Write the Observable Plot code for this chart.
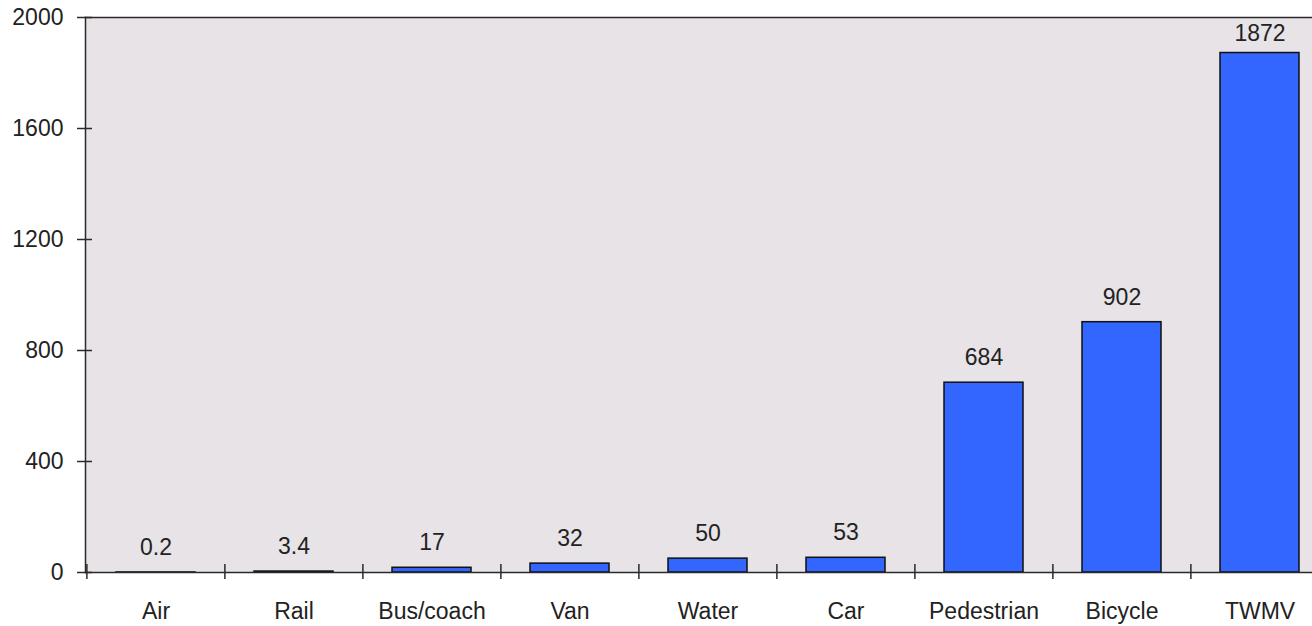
<!DOCTYPE html>
<html>
<head>
<meta charset="utf-8">
<script src="https://cdn.jsdelivr.net/npm/d3@7"></script>
<script src="https://cdn.jsdelivr.net/npm/@observablehq/plot@0.6"></script>
<style>
  html, body { margin: 0; padding: 0; background: #ffffff; }
  svg { display: block; }
</style>
</head>
<body>
<div id="chart"></div>
<script>
const categories = ["Air", "Rail", "Bus/coach", "Van", "Water", "Car", "Pedestrian", "Bicycle", "TWMV"];
const values = [0.2, 3.4, 17, 32, 50, 53, 684, 902, 1872];
const valueLabels = ["0.2", "3.4", "17", "32", "50", "53", "684", "902", "1872"];
const yTicks = [0, 400, 800, 1200, 1600, 2000];

const data = categories.map((c, i) => ({category: c, value: values[i], label: valueLabels[i]}));

const W = 1312, H = 626;
const left = 85;
const xRange = [left, 1329];
const step = (xRange[1] - xRange[0]) / categories.length;
const font = "Liberation Sans, Arial, sans-serif";
const axisColor = "#2a2a2a";
const fs = 23;

const chart = Plot.plot({
  width: W,
  height: H,
  marginTop: 17,
  marginBottom: 54,
  marginLeft: left,
  marginRight: 0,
  style: {fontFamily: font, fontSize: fs + "px", color: "#222", background: "#ffffff"},
  x: {domain: categories, range: xRange, paddingInner: 0.43, paddingOuter: 0.215, label: null},
  y: {domain: [0, 2000], label: null},
  marks: [
    Plot.frame({fill: "#e7e3e7", stroke: "none"}),
    Plot.barY(data, {x: "category", y: "value", fill: "#3366ff", stroke: "#111", strokeWidth: 1.5}),
    Plot.text(data.filter(d => d.value < 1500), {x: "category", y: "value", text: "label", dy: -25, fill: "#222", fontSize: fs}),
    Plot.text(data.filter(d => d.value >= 1500), {x: "category", y: "value", text: "label", dy: -19, fill: "#222", fontSize: fs}),
    Plot.frame({anchor: "top", stroke: axisColor, strokeWidth: 1.5}),
    Plot.frame({anchor: "left", stroke: axisColor, strokeWidth: 1.5}),
    Plot.frame({anchor: "bottom", stroke: axisColor, strokeWidth: 1.5}),
    Plot.axisY({ticks: yTicks, tickFormat: d3.format("d"), tickSize: 8, tickPadding: 14, stroke: axisColor, fill: "#222", fontSize: fs, strokeWidth: 1.5}),
    Plot.axisY({ticks: yTicks, tickSize: -7, text: null, stroke: axisColor, strokeWidth: 1.5}),
    Plot.axisX({tickSize: 0, tickPadding: 30, fill: "#222", fontSize: fs}),
    Plot.axisX({tickSize: 7, text: null, dx: -step / 2, stroke: axisColor, strokeWidth: 1.5}),
    Plot.axisX({tickSize: -8, text: null, dx: -step / 2, stroke: axisColor, strokeWidth: 1.5})
  ]
});
document.getElementById("chart").appendChild(chart);
</script>
</body>
</html>
